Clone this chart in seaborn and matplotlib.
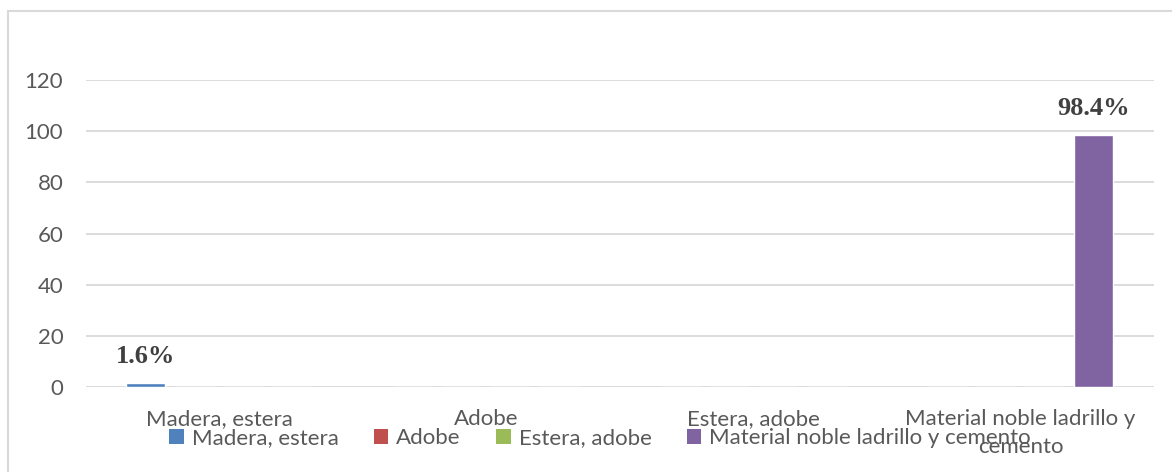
import matplotlib
matplotlib.use("Agg")
import matplotlib.pyplot as plt
from matplotlib.patches import Rectangle, Patch
import pandas as pd
import seaborn as sns

# data
categories = ["Madera, estera", "Adobe", "Estera, adobe", "Material noble ladrillo y cemento"]
tick_labels = ["Madera, estera", "Adobe", "Estera, adobe", "Material noble ladrillo y\ncemento"]
values = [1.6, 0, 0, 98.4]
colors = ["#4F81BD", "#C0504D", "#9BBB59", "#8064A2"]

# each series only has a value in its own category
rows = []
for i, cat in enumerate(categories):
    for j, ser in enumerate(categories):
        rows.append({"cat": cat, "serie": ser, "valor": values[i] if i == j else 0})
df = pd.DataFrame(rows)

sns.set_theme(style="white")
plt.rcParams['font.family'] = ['Lato', 'DejaVu Sans']

fig = plt.figure(figsize=(11.72, 4.72), dpi=100)
ax = fig.add_axes([85.5 / 1172, 1 - 387 / 472, (1154 - 85.5) / 1172, (387 - 80) / 472])

sns.barplot(data=df, x="cat", y="valor", hue="serie", hue_order=categories,
            order=categories, palette=colors, width=0.73, gap=0.2,
            legend=False, ax=ax, errorbar=None, saturation=1)

ax.set_ylim(0, 120)
ax.set_yticks(range(0, 121, 20))
ax.set_xlim(-0.5, 3.5)
ax.grid(axis="y", color="#d9d9d9", linewidth=1.3)
ax.set_axisbelow(True)
for s in ax.spines.values():
    s.set_visible(False)
ax.set_xlabel("")
ax.set_ylabel("")
ax.set_xticks(range(len(categories)))
ax.set_xticklabels(tick_labels, linespacing=1.5)
ax.tick_params(axis="y", length=0, pad=16, labelsize=16, labelcolor="#595959")
ax.tick_params(axis="x", length=0, pad=16, labelsize=16, labelcolor="#595959")

# value labels on the non-zero bars
for j, cont in enumerate(ax.containers):
    labs = []
    for i, bar in enumerate(cont):
        labs.append(f"{values[i]}%" if i == j and values[i] > 0 else "")
    ax.bar_label(cont, labels=labs, padding=11, fontsize=19, fontweight="bold",
                 family="Liberation Serif", color="#404040")

handles = [Patch(facecolor=c, edgecolor="none") for c in colors]
fig.legend(handles, categories, loc="center", bbox_to_anchor=(0.512, 1 - 438 / 472),
           ncol=4, frameon=False, fontsize=16, labelcolor="#595959",
           handlelength=0.65, handleheight=0.65, handletextpad=0.35, columnspacing=1.6)

# outer chart border
fig.patches.append(Rectangle((8 / 1172, -0.2), 2, 1 - 11 / 472 + 0.2, transform=fig.transFigure,
                             fill=False, edgecolor="#d9d9d9", linewidth=1.5))

fig.savefig("out.png", dpi=100)
